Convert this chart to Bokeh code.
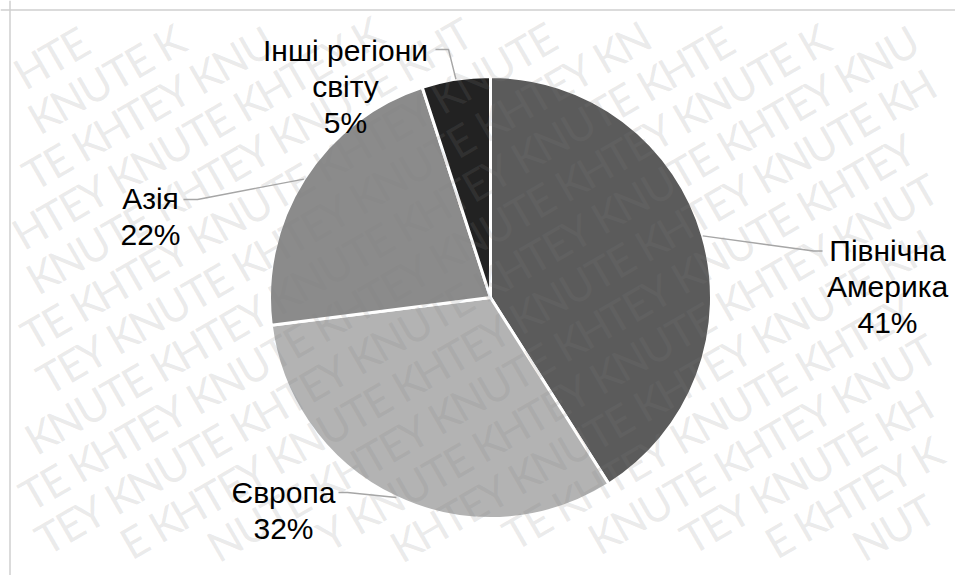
import math
from bokeh.plotting import figure
from bokeh.models import Range1d, Span, ColumnDataSource
from bokeh.core.properties import value
from bokeh.embed import file_html
from bokeh.resources import INLINE

# ---- data ----
categories = ["Північна Америка", "Європа", "Азія", "Інші регіони світу"]
label_lines = [["Північна", "Америка"], ["Європа"], ["Азія"], ["Інші регіони", "світу"]]
shares = [41, 32, 22, 5]
colors = ["#5b5b5b", "#b3b3b3", "#8b8b8b", "#222222"]

# ---- layout (page pixel coordinates; data y = -page y) ----
W, H = 955, 575
CX, CY, R = 490, 297, 221
label_pos = [(887, 250), (283, 492), (150, 198), (345, 50)]   # centre x, first baseline
elbows = [[(813, 250.5), (822, 250.5)], [(347, 492), (338, 492)],
          [(197, 199), (183, 199)], [(448, 49), (435, 49)]]
LINE_PITCH = 36
FONT = "Liberation Sans"

p = figure(width=W, height=H, output_backend="svg", toolbar_location=None,
           x_range=Range1d(0, W), y_range=Range1d(-H, 0),
           x_axis_type=None, y_axis_type=None, min_border=0)
p.grid.visible = False
p.outline_line_color = None
p.background_fill_color = "white"
p.border_fill_color = "white"

# pie wedges
total = float(sum(shares))
starts, ends, mids = [], [], []
cum = 0.0
for v in shares:
    a0 = math.pi / 2 - cum / total * 2 * math.pi
    cum += v
    a1 = math.pi / 2 - cum / total * 2 * math.pi
    starts.append(a0)
    ends.append(a1)
    mids.append((a0 + a1) / 2)

src = ColumnDataSource(dict(x=[CX] * 4, y=[-CY] * 4, start=starts, end=ends, color=colors))
p.wedge(x="x", y="y", radius=R, start_angle="start", end_angle="end", direction="clock",
        fill_color="color", line_color="white", line_width=3, source=src)

# watermark: letters placed one by one along diagonal rows (continuous text)
ang = math.radians(30)
ux, uy = math.cos(ang), math.sin(ang)
nx, ny = -math.sin(ang), math.cos(ang)
WM = "KHTEY KNUTE "
ADV = {"K": 0.52, "H": 0.623, "T": 0.487, "E": 0.488, "Y": 0.487, " ": 0.226,
       "N": 0.646, "U": 0.653}
EM = 48
offs = []
acc = 0.0
for ch in WM:
    offs.append(acc + ADV[ch] * EM / 2)
    acc += ADV[ch] * EM
PERIOD = acc
ROW_PITCH = 46
wx, wy, wt = [], [], []
for k in range(-16, 17):
    shift = (k * 0.43 * PERIOD) % PERIOD
    for m in range(-6, 7):
        for ch, o in zip(WM, offs):
            if ch == " ":
                continue
            t = m * PERIOD + shift + o
            cxp = 478 + k * ROW_PITCH * nx + t * ux
            cyp = -288 + k * ROW_PITCH * ny + t * uy
            ok = True
            for a in (-16, 16):
                for b in (-26, 26):
                    px = cxp + a * ux + b * nx
                    py = cyp + a * uy + b * ny
                    if not (1 <= px <= W - 1 and -H + 1 <= py <= -1):
                        ok = False
            if ok:
                wx.append(cxp)
                wy.append(cyp)
                wt.append(ch)
p.text(x=wx, y=wy, text=wt, angle=ang, text_font=value("Lato"),
       text_font_size="43px", text_color="#808080", text_alpha=0.17,
       text_align="center", text_baseline="middle")

# leader lines
for i in range(4):
    sx = CX + R * math.cos(mids[i])
    sy = CY - R * math.sin(mids[i])
    xs = [sx] + [e[0] for e in elbows[i]]
    ys = [-sy] + [-e[1] for e in elbows[i]]
    p.line(xs, ys, line_color="#a6a6a6", line_width=1.4)

# labels
tx, ty, tt = [], [], []
for i in range(4):
    lines = label_lines[i] + [f"{shares[i]}%"]
    lx, ly = label_pos[i]
    for j, s in enumerate(lines):
        tx.append(lx)
        ty.append(-(ly + j * LINE_PITCH))
        tt.append(s)
p.text(x=tx, y=ty, text=tt, text_font=value(FONT), text_font_size="30px",
       text_color="#000000", text_align="center", text_baseline="alphabetic")

# chart border (top and left edges visible)
p.add_layout(Span(location=9.5, dimension="height", line_color="#cfcfcf", line_width=1.5))
p.add_layout(Span(location=-9.5, dimension="width", line_color="#cfcfcf", line_width=1.5))

open("out.html", "w").write(file_html(p, INLINE))
